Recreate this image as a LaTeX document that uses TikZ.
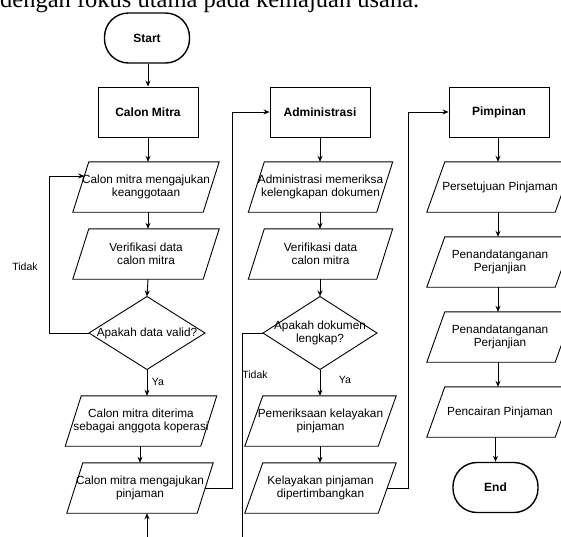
\documentclass[tikz,border=0pt]{standalone}
\usepackage{fontspec}
\setmainfont{Liberation Sans}
\newfontfamily\serifbody{Liberation Serif}
\usetikzlibrary{arrows.meta,calc}
\tikzset{
  base/.style={font=\fontsize{11.8}{13.5}\selectfont, align=center, inner sep=0pt},
  term/.style={base, draw, line width=1.4pt, rounded corners=24pt, minimum width=85pt, minimum height=50pt, font=\fontsize{12}{14}\selectfont\bfseries},
  lane/.style={base, draw, line width=0.9pt, minimum width=100pt, minimum height=50pt, font=\fontsize{12}{14}\selectfont\bfseries},
  io/.style={base, minimum width=#1, minimum height=50pt},
  io/.default=130pt,
  lbl/.style={font=\fontsize{10.5}{12}\selectfont, inner sep=0pt},
  arr/.style={line width=0.9pt, -{Stealth[length=6pt,width=5pt]}},
  ln/.style={line width=0.9pt},
}
\begin{document}
\begin{tikzpicture}[x=1pt,y=-1pt]
\useasboundingbox (0,0) rectangle (561,536);
\clip (0,0) rectangle (561,536);
% top text
\node[anchor=base west, inner sep=0pt, font=\serifbody\fontsize{24.5}{26}\selectfont] (toptext) at (0,7.5) {dengan fokus utama pada kemajuan usaha.};
% left column
\node[term] (start) at (147,38) {Start};
\node[lane] (c1) at (148,112) {Calon Mitra};
\node[io] (p1) at (146,187) {Calon mitra mengajukan\\keanggotaan};
\node[io] (p2) at (146,254) {Verifikasi data\\calon mitra};
\node[base] (d1t) at (147,333) {Apakah data valid?};
\node[io=134pt] (p3) at (141,421) {Calon mitra diterima\\sebagai anggota koperasi};
\node[io] (p4) at (140,488) {Calon mitra mengajukan\\pinjaman};
% middle column
\node[lane] (c2) at (320,112) {Administrasi};
\node[io=128pt] (p5) at (320.5,187) {Administrasi memeriksa\\kelengkapan dokumen};
\node[io=128pt] (p6) at (320.5,254) {Verifikasi data\\calon mitra};
\node[base] (d2t) at (320,333) {Apakah dokumen\\lengkap?};
\node[io=133pt] (p7) at (320.5,421) {Pemeriksaan kelayakan\\pinjaman};
\node[io=133pt] (p8) at (320.5,488) {Kelayakan pinjaman\\dipertimbangkan};
% right column
\node[lane] (c3) at (499,112) {Pimpinan};
\node[io=128pt] (p9) at (500,187) {Persetujuan Pinjaman};
\node[io=128pt] (p10) at (500,262) {Penandatanganan\\Perjanjian};
\node[io=128pt] (p11) at (500,337) {Penandatanganan\\Perjanjian};
\node[io=128pt] (p12) at (500,412) {Pencairan Pinjaman};
\node[term] (end) at (495.5,487.5) {End};
% parallelogram outlines
\foreach \n/\s in {p1/8,p2/8,p3/8,p4/8,p5/8,p6/8,p7/9,p8/9,p9/9,p10/9,p11/9,p12/9}{
  \draw[ln] ([xshift=\s pt]\n.north west) -- ([xshift=\s pt]\n.north east) -- ([xshift=-\s pt]\n.south east) -- ([xshift=-\s pt]\n.south west) -- cycle;
}
% diamonds
\coordinate (d1n) at (147,296.5); \coordinate (d1s) at (147,369.5);
\coordinate (d1w) at (89,333); \coordinate (d1e) at (205,333);
\draw[ln] (d1n) -- (d1e) -- (d1s) -- (d1w) -- cycle;
\coordinate (d2n) at (320,296.5); \coordinate (d2s) at (320,369.5);
\coordinate (d2w) at (263,333); \coordinate (d2e) at (377,333);
\draw[ln] (d2n) -- (d2e) -- (d2s) -- (d2w) -- cycle;
% left column connectors
\draw[arr] (start.south -| c1.north) -- (c1.north);
\draw[arr] (c1.south) -- (c1.south |- p1.north);
\draw[arr] (c1.south |- p1.south) -- (c1.south |- p2.north);
\draw[arr] (c1.south |- p2.south) -- (d1n);
\coordinate (loopin) at ([xshift=3.5pt,yshift=11pt]p1.west);
\coordinate (loopx) at (49,333);
\draw[arr] (d1w) -- (loopx) |- (loopin);
\node[lbl] (t1) at (25,267) {Tidak};
\draw[arr] (d1s) -- (d1s |- p3.north);
\node[lbl] (y1) at (158,382) {Ya};
\draw[arr] (p3.south -| p4.north) -- (p4.north);
% to Administrasi
\coordinate (r1) at (232,488);
\draw[arr] (p4.east) -- (r1) |- (c2.west);
% middle connectors
\draw[arr] (c2.south) -- (c2.south |- p5.north);
\draw[arr] (c2.south |- p5.south) -- (c2.south |- p6.north);
\draw[arr] (c2.south |- p6.south) -- (d2n);
\draw[arr] (d2s) -- (d2s |- p7.north);
\draw[arr] (d2s |- p7.south) -- (d2s |- p8.north);
\node[lbl] (t2) at (255,375) {Tidak};
\node[lbl] (y2) at (345,380) {Ya};
\coordinate (lowR) at (242,550);
\coordinate (lowL) at (147,550);
\draw[arr] (d2w) -| (lowR) -- (lowL) -- (lowL |- p4.south);
% to Pimpinan
\coordinate (r2) at (408,488);
\draw[arr] (p8.east) -- (r2) |- (c3.west);
% right connectors
\coordinate (rc) at (498,0);
\draw[arr] (c3.south -| rc) -- (p9.north -| rc);
\draw[arr] (p9.south -| rc) -- (p10.north -| rc);
\draw[arr] (p10.south -| rc) -- (p11.north -| rc);
\draw[arr] (p11.south -| rc) -- (p12.north -| rc);
\draw[arr] (p12.south -| end.north) -- (end.north);
\end{tikzpicture}
\end{document}
